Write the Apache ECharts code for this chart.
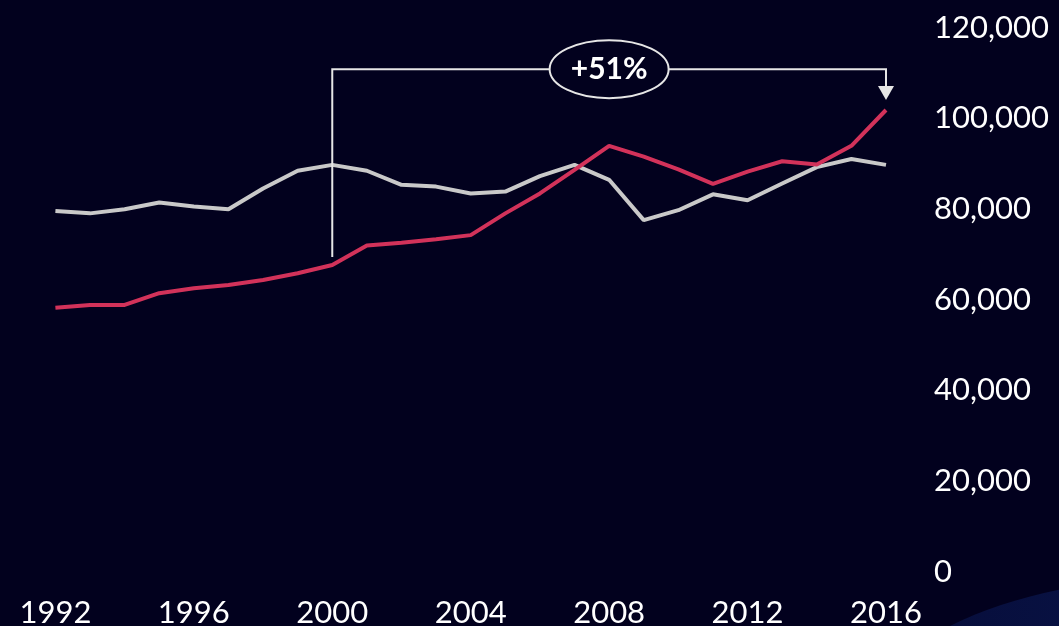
<!DOCTYPE html>
<html>
<head>
<meta charset="utf-8">
<script src="https://cdn.jsdelivr.net/npm/echarts@6/dist/echarts.min.js"></script>
<style>
html,body{margin:0;padding:0;background:#02011e;}
#chart{width:1059px;height:626px;}
</style>
</head>
<body>
<div id="chart"></div>
<script>
const years = [1992,1993,1994,1995,1996,1997,1998,1999,2000,2001,2002,2003,2004,2005,2006,2007,2008,2009,2010,2011,2012,2013,2014,2015,2016];
const redValues = [58200,58800,58800,61400,62500,63200,64300,65800,67600,71900,72500,73300,74200,79000,83400,88600,93900,91500,88700,85500,88200,90500,89800,93900,101800];
const grayValues = [79500,79000,79900,81400,80500,79900,84500,88400,89700,88400,85300,84900,83400,83800,87200,89700,86400,77500,79700,83200,81900,85600,89200,91000,89700];
const yTicks = [0,20000,40000,60000,80000,100000,120000];
const xTicks = [1992,1996,2000,2004,2008,2012,2016];
// annotation
const bracketFromYear = 2000, bracketToYear = 2016;
const bracketBottom = 69400, bracketTop = 110800, arrowTip = 104000;
const badgeYear = 2008, badgeText = '+51%';

const chart = echarts.init(document.getElementById('chart'), null, {renderer:'canvas'});
const font = 'Lato, "Open Sans", sans-serif';

function baseOption(){
  return {
    backgroundColor: '#02011e',
    animation: false,
    grid: {left: 55.4, right: 173, top: 27.5, bottom: 54.5, containLabel:false, outerBoundsMode:'none'},
    xAxis: {
      type: 'value', min: xTicks[0], max: xTicks[xTicks.length-1], interval: 4,
      axisLine:{show:false}, axisTick:{show:false}, splitLine:{show:false},
      axisLabel:{color:'#ffffff', fontFamily:font, fontSize:31, margin:26,
        formatter: v => String(v)}
    },
    yAxis: {
      type: 'value', position: 'right', min: yTicks[0], max: yTicks[yTicks.length-1], interval: 20000,
      axisLine:{show:false}, axisTick:{show:false}, splitLine:{show:false},
      axisLabel:{color:'#ffffff', fontFamily:font, fontSize:31, margin:48, align:'left',
        formatter: v => v.toLocaleString('en-US')}
    },
    series: [
      {type:'line', name:'gray', data: years.map((y,i)=>[y, grayValues[i]]), symbol:'none',
        lineStyle:{color:'#c9c9c9', width:4}, z:2},
      {type:'line', name:'red', data: years.map((y,i)=>[y, redValues[i]]), symbol:'none',
        lineStyle:{color:'#d2325a', width:4}, z:3}
    ]
  };
}
chart.setOption(baseOption());

const p = (x,y) => chart.convertToPixel({gridIndex:0}, [x,y]);
const a = p(bracketFromYear, bracketBottom);
const b = p(bracketFromYear, bracketTop);
const c = p(bracketToYear, bracketTop);
const d = p(bracketToYear, arrowTip);
const e = p(badgeYear, bracketTop);
const headH = 14, headW = 8;

chart.setOption({
  graphic: [
    {type:'ellipse', z:0, silent:true, shape:{cx:1180, cy:760, rx:340, ry:182},
      style:{fill:new echarts.graphic.LinearGradient(0,0,1,0,[{offset:0,color:'#060c38'},{offset:1,color:'#0c1a54'}])}},
    {type:'polyline', z:10, shape:{points:[a,b,c,[d[0], d[1]-headH]]},
      style:{stroke:'#e6e6e6', lineWidth:2, fill:null}},
    {type:'polygon', z:10, shape:{points:[[d[0]-headW, d[1]-headH],[d[0]+headW, d[1]-headH],[d[0], d[1]]]},
      style:{fill:'#e6e6e6'}},
    {type:'ellipse', z:11, shape:{cx:e[0], cy:e[1], rx:59.5, ry:29},
      style:{fill:'#02011e', stroke:'#e6e6e6', lineWidth:2}},
    {type:'text', z:12, x:e[0], y:e[1],
      style:{text:badgeText, fill:'#ffffff', font:'bold 30px ' + font, align:'center', verticalAlign:'middle'}}
  ]
});
</script>
</body>
</html>
